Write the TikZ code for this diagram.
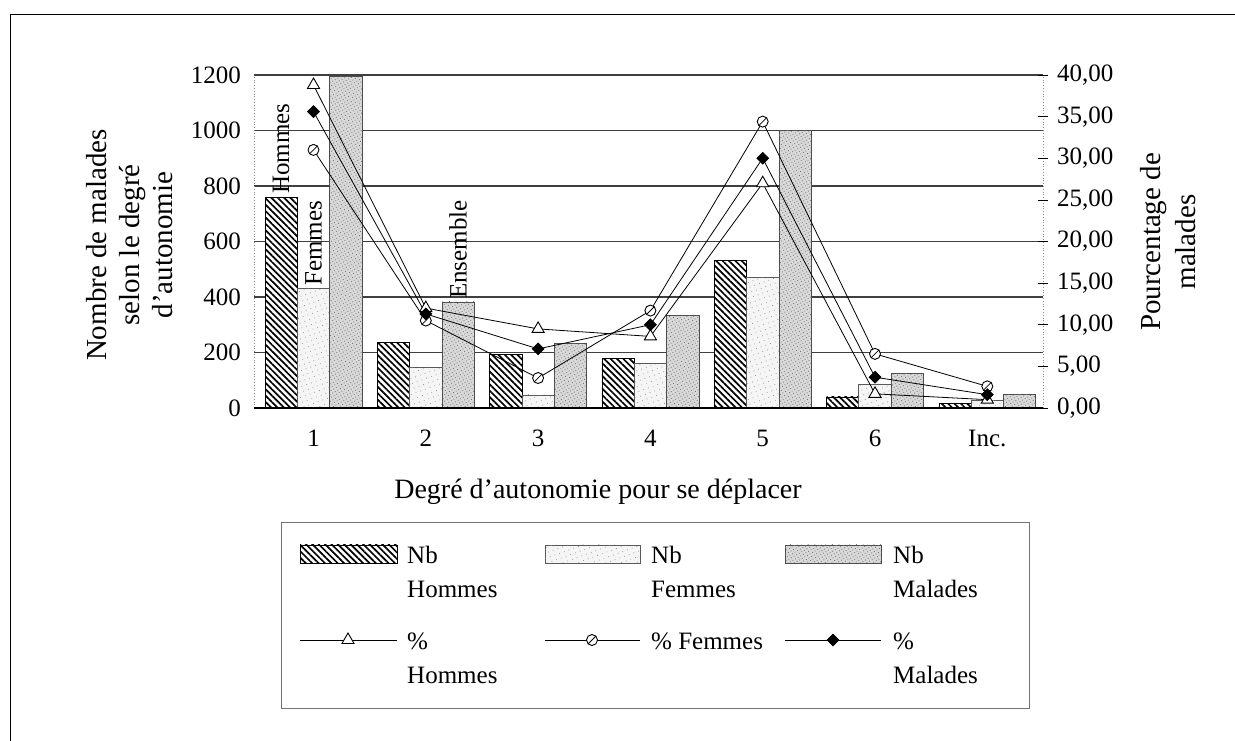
\documentclass[tikz,border=0pt]{standalone}
\usepackage{fontspec}
\setmainfont{Liberation Serif}
\usetikzlibrary{patterns.meta,shapes.geometric}

\begin{document}
\begin{tikzpicture}[
		x=1pt, y=1pt,
		font=\fontsize{25}{34}\selectfont,
		grille/.style={draw=black!75, line width=1.1pt},
		barH/.style={draw=black, line width=0.6pt, fill=white, postaction={pattern={Lines[angle=-45,distance=4.5pt,line width=1.7pt]}}},
		barF/.style={draw=black!65, line width=0.7pt, fill=black!4, postaction={pattern={Dots[radius=0.5pt,distance=5pt,angle=20]}, pattern color=black!45}},
		barE/.style={draw=black!70, line width=0.7pt, fill=black!15, postaction={pattern={Dots[radius=0.6pt,distance=3pt,angle=30]}, pattern color=black!55}},
		serie/.style={draw=black, line width=0.8pt},
		trimark/.style={regular polygon, regular polygon sides=3, draw, line width=0.9pt, fill=white, inner sep=0pt, minimum size=14pt},
		cercmark/.style={circle, draw, line width=0.9pt, fill=white, inner sep=0pt, minimum size=11pt,
			path picture={\draw[line width=0.8pt] (path picture bounding box.south west) -- (path picture bounding box.north east);}},
		losmark/.style={diamond, draw, line width=0.9pt, fill=black, inner sep=0pt, minimum size=12pt},
		lbl/.style={rotate=90, anchor=west, inner sep=1pt},
		legtxt/.style={anchor=north west, align=left, inner sep=0pt},
	]
	\useasboundingbox (0,-333) rectangle (1235,408);
	% cadre
	\draw[black, line width=1pt] (10,-333) -- (10,393) -- (1235,393);

	% grille et axes
	\foreach \v in {200,400,...,1200}
		\draw[grille] (254,\v*0.2775) -- (1043,\v*0.2775);
	\draw[black!45, dotted, line width=0.8pt] (254,0) -- (254,333);
	\draw[black!45, dotted, line width=0.8pt] (1043,0) -- (1043,333);
	\foreach \p in {0,5,...,40}
		\draw[line width=0.6pt] (1038,\p*8.325) -- (1048,\p*8.325);

	% barres
	\foreach \i/\nh/\nf/\ne in {1/760/430/1195, 2/235/148/382, 3/192/47/234, 4/178/160/335, 5/532/472/1000, 6/40/86/126, 7/17/28/50}{
		\pgfmathsetmacro{\cx}{313.5+112.3*(\i-1)}
		\path[barH] (\cx-48.5,0) rectangle (\cx-16.2,\nh*0.2775);
		\path[barF] (\cx-16.2,0) rectangle (\cx+16.2,\nf*0.2775);
		\path[barE] (\cx+16.2,0) rectangle (\cx+48.5,\ne*0.2775);
	}
	\draw[black, line width=1.5pt] (254,0) -- (1043,0);

	% etiquettes des barres
	\node[lbl] (tHommes) at (281,213) {Hommes};
	\node[lbl] (tFemmes) at (313.5,121) {Femmes};
	\node[lbl] (tEnsemble) at (458,108) {Ensemble};

	% pourcentages
	\foreach \i/\ph/\pf/\pm in {1/38.8/31.0/35.6, 2/12.0/10.5/11.3, 3/9.5/3.6/7.1, 4/8.6/11.7/10.0, 5/27.0/34.4/30.0, 6/1.7/6.5/3.7, 7/1.0/2.6/1.6}{
		\pgfmathsetmacro{\cx}{313.5+112.3*(\i-1)}
		\coordinate (ph\i) at (\cx,\ph*8.325);
		\coordinate (pf\i) at (\cx,\pf*8.325);
		\coordinate (pm\i) at (\cx,\pm*8.325);
	}
	\draw[serie] (ph1) \foreach \j in {2,...,7}{-- (ph\j)};
	\draw[serie] (pf1) \foreach \j in {2,...,7}{-- (pf\j)};
	\draw[serie] (pm1) \foreach \j in {2,...,7}{-- (pm\j)};
	\foreach \j in {1,...,7}{
		\node[trimark] (mh\j) at (ph\j) {};
		\node[cercmark] (mf\j) at (pf\j) {};
		\node[losmark] (mm\j) at (pm\j) {};
	}

	% graduations
	\foreach \v in {0,200,...,1200}
		\node[anchor=east, inner sep=0pt] (g\v) at (241,\v*0.2775) {\v};
	\foreach \p in {0,5,...,40}
		\node[anchor=west, inner sep=0pt] (d\p) at (1057,\p*8.325) {\p,00};
	\foreach \c [count=\i] in {1,2,3,4,5,6,Inc.}{
		\pgfmathsetmacro{\cx}{313.5+112.3*(\i-1)}
		\node (cat\i) at (\cx,-30) {\c};
	}

	% titres
	\node[font=\fontsize{28}{34}\selectfont] (titrex) at (598,-84) {Degré d'autonomie pour se déplacer};
	\node[rotate=90, align=center, font=\fontsize{29}{33}\selectfont] (titreg) at (130,163)
		{Nombre de malades\\selon le degré\\d'autonomie};
	\node[rotate=90, align=center, font=\fontsize{29}{35}\selectfont] (titred) at (1168,166)
		{Pourcentage de\\malades};

	% legende
	\draw[black!55, line width=0.8pt] (281,-114) rectangle (1029,-300);
	\path[barH] (300,-137) rectangle (397,-155);
	\path[barF] (545,-137) rectangle (640,-155);
	\path[barE] (785,-137) rectangle (881,-155);
	\node[legtxt] (lgNbH) at (407,-138) {Nb\\Hommes};
	\node[legtxt] (lgNbF) at (651,-138) {Nb\\Femmes};
	\node[legtxt] (lgNbM) at (893,-138) {Nb\\Malades};
	\draw[serie] (300,-232) -- (397,-232);
	\draw[serie] (545,-232) -- (640,-232);
	\draw[serie] (785,-232) -- (881,-232);
	\node[trimark] (lgmh) at (348,-232) {};
	\node[cercmark] (lgmf) at (592,-232) {};
	\node[losmark] (lgmm) at (833,-232) {};
	\node[legtxt] (lgPH) at (407,-225) {\%\\Hommes};
	\node[legtxt] (lgPF) at (651,-225) {\% Femmes};
	\node[legtxt] (lgPM) at (893,-225) {\%\\Malades};
\end{tikzpicture}
\end{document}
